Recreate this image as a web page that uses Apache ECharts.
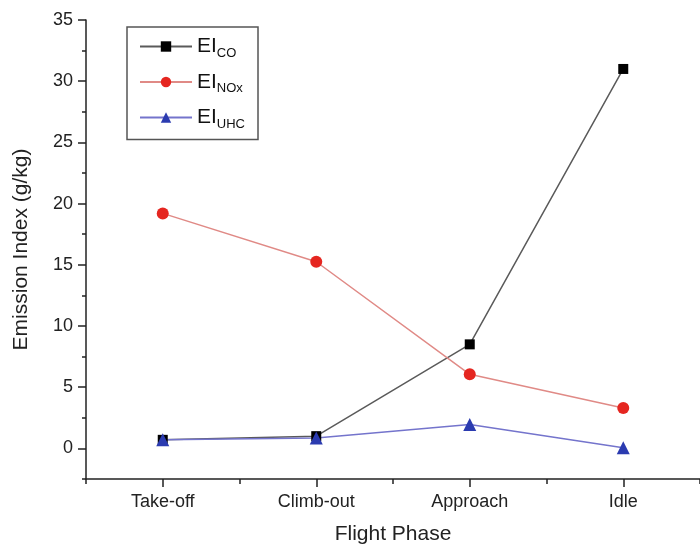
<!DOCTYPE html>
<html>
<head>
<meta charset="utf-8">
<script src="https://cdn.jsdelivr.net/npm/echarts@6/dist/echarts.min.js"></script>
<style>html,body{margin:0;padding:0;background:#fff}#c{width:700px;height:550px}</style>
</head>
<body>
<div id="c"></div>
<script>
const categories = ['Take-off', 'Climb-out', 'Approach', 'Idle'];
const eiCO = [0.7, 1.0, 8.5, 31.0];
const eiNOx = [19.2, 15.25, 6.05, 3.3];
const eiUHC = [0.7, 0.85, 1.95, 0.05];
const seriesNames = ['CO', 'NOx', 'UHC'];

const FONT = 'Liberation Sans, Arial, sans-serif';
const AX = '#222';
const yMin = -2.5, yMax = 35;
const gridTop = 20, gridH = 459;
const chart = echarts.init(document.getElementById('c'));
chart.setOption({
  animation: false,
  textStyle: {fontFamily: FONT},
  grid: [
    {left: 86, top: gridTop, width: 618, height: gridH},
    {left: 86, top: gridTop, width: 618, height: gridH * (yMax - 0) / (yMax - yMin)}
  ],
  legend: {
    orient: 'vertical', left: 127, top: 27,
    padding: [9, 13, 9, 12],
    itemGap: 12, itemWidth: 52, itemHeight: 13,
    borderColor: '#555', borderWidth: 1.5,
    data: seriesNames,
    formatter: function (n) { return '{m|EI}{s|' + n + '}'; },
    textStyle: {
      color: '#111',
      rich: {
        m: {fontSize: 21, fontFamily: FONT, color: '#111', lineHeight: 26},
        s: {fontSize: 13, fontFamily: FONT, color: '#111', lineHeight: 26, verticalAlign: 'bottom', padding: [10, 0, 0, 0]}
      }
    }
  },
  xAxis: [{
    type: 'category', data: categories, boundaryGap: true, gridIndex: 0,
    name: 'Flight Phase', nameLocation: 'middle', nameGap: 45,
    nameTextStyle: {fontSize: 21, color: AX, fontFamily: FONT},
    axisLine: {show: true, onZero: false, lineStyle: {color: AX, width: 1.5}},
    axisTick: {show: true, inside: false, alignWithLabel: true, length: 8, lineStyle: {color: AX, width: 1.5}},
    axisLabel: {fontSize: 18, color: AX, margin: 14, fontFamily: FONT},
    splitLine: {show: false}
  }, {
    type: 'category', data: categories, boundaryGap: true, position: 'bottom', gridIndex: 0,
    axisLine: {show: false, onZero: false},
    axisTick: {show: true, inside: false, alignWithLabel: false, length: 5, lineStyle: {color: AX, width: 1.5}},
    axisLabel: {show: false},
    splitLine: {show: false}
  }, {
    type: 'category', data: categories, gridIndex: 1, show: false
  }],
  yAxis: [{
    type: 'value', min: yMin, max: yMax, interval: 2.5, gridIndex: 0,
    name: 'Emission Index (g/kg)', nameLocation: 'middle', nameGap: 54,
    nameTextStyle: {fontSize: 21, color: AX, fontFamily: FONT},
    axisLine: {show: true, onZero: false, lineStyle: {color: AX, width: 1.5}},
    axisTick: {show: true, length: 4, lineStyle: {color: AX, width: 1.5}},
    axisLabel: {show: false},
    splitLine: {show: false}
  }, {
    type: 'value', min: 0, max: yMax, interval: 5, gridIndex: 1,
    axisLine: {show: false},
    axisTick: {show: true, length: 8, lineStyle: {color: AX, width: 1.5}},
    axisLabel: {fontSize: 18, color: AX, margin: 13, fontFamily: FONT},
    splitLine: {show: false}
  }],
  series: [{
    name: 'CO', type: 'line', data: eiCO, xAxisIndex: 0, yAxisIndex: 0,
    symbol: 'rect', symbolSize: 10,
    itemStyle: {color: '#000'},
    lineStyle: {color: '#5a5a5a', width: 1.5}
  }, {
    name: 'NOx', type: 'line', data: eiNOx, xAxisIndex: 0, yAxisIndex: 0,
    symbol: 'circle', symbolSize: 12,
    itemStyle: {color: '#e52620'},
    lineStyle: {color: '#e08a86', width: 1.5}
  }, {
    name: 'UHC', type: 'line', data: eiUHC, xAxisIndex: 0, yAxisIndex: 0,
    symbol: 'triangle', symbolSize: 13,
    itemStyle: {color: '#2b3bb0'},
    lineStyle: {color: '#7474cc', width: 1.5}
  }]
});
</script>
</body>
</html>
